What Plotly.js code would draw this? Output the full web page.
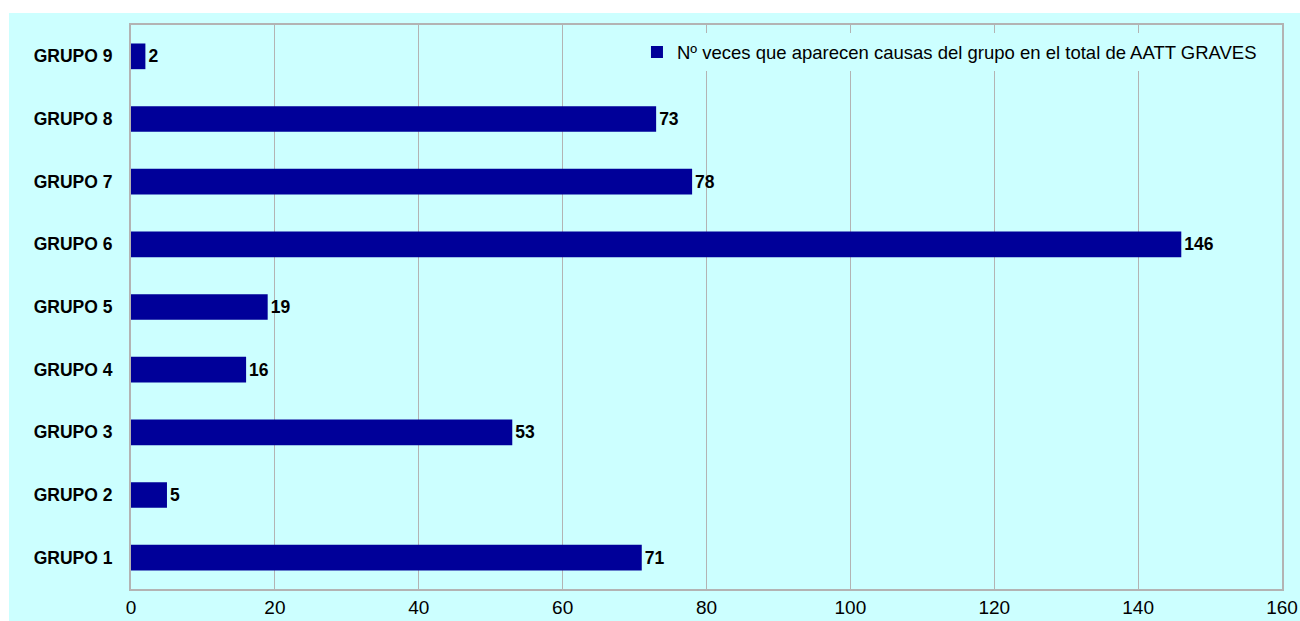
<!DOCTYPE html>
<html><head><meta charset="utf-8">
<script src="https://cdn.plot.ly/plotly-3.0.1.min.js"></script>
<style>
html,body{margin:0;padding:0;background:#ffffff;width:1300px;height:621px;overflow:hidden;}
#chart{position:absolute;left:9px;top:13px;width:1291px;height:608px;}
</style></head>
<body><div id="chart"></div>
<script>
const categories = ["GRUPO 1","GRUPO 2","GRUPO 3","GRUPO 4","GRUPO 5","GRUPO 6","GRUPO 7","GRUPO 8","GRUPO 9"];
const values = [71, 5, 53, 16, 19, 146, 78, 73, 2];
const seriesName = "Nº veces que aparecen causas del grupo en el total de AATT GRAVES";
const xTicks = [0, 20, 40, 60, 80, 100, 120, 140, 160];

const trace = {
  type: 'bar', orientation: 'h',
  x: values, y: categories, name: seriesName,
  marker: {color: '#000099'},
  text: values.map(String), textposition: 'outside', cliponaxis: false,
  textfont: {family: 'Arial, Liberation Sans, sans-serif', size: 17.5, color: '#000000', weight: 'bold'},
  showlegend: true
};
const layout = {
  width: 1291, height: 608,
  paper_bgcolor: '#ccffff', plot_bgcolor: '#ccffff',
  margin: {l: 122, r: 18, t: 12, b: 32},
  bargap: 0.59,
  font: {family: 'Arial, Liberation Sans, sans-serif', color: '#000000'},
  xaxis: {range: [0, 160], tickvals: xTicks, ticktext: xTicks.map(String),
    showgrid: true, gridcolor: '#b3b3b3', gridwidth: 1,
    showline: true, linecolor: '#b3b3b3', linewidth: 2, mirror: true,
    zeroline: false, ticks: '', tickfont: {size: 19}, ticklen: 0},
  yaxis: {categoryorder: 'array', categoryarray: categories,
    showgrid: false, showline: true, linecolor: '#b3b3b3', linewidth: 2, mirror: true,
    ticks: '', tickfont: {size: 17.5, weight: 'bold'}, ticklabelstandoff: 13},
  legend: {x: 0.9826, y: 0.985, xanchor: 'right', yanchor: 'top',
    bgcolor: '#ccffff', borderwidth: 0, font: {size: 18.5}, itemwidth: 30},
  showlegend: true
};
Plotly.newPlot('chart', [trace], layout, {displayModeBar: false, staticPlot: true});
</script></body></html>
